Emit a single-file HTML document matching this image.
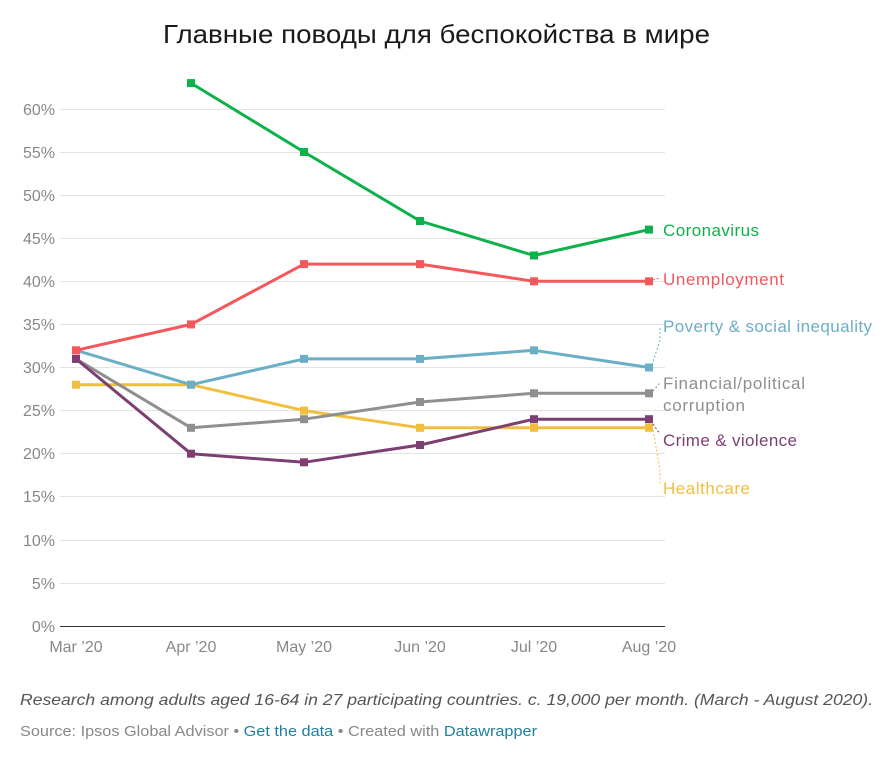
<!DOCTYPE html>
<html><head><meta charset="utf-8"><style>
body{margin:0;background:#fff;width:888px;height:752px;overflow:hidden;font-family:"Liberation Sans","DejaVu Sans",sans-serif;}
</style></head><body>
<svg width="888" height="752" xmlns="http://www.w3.org/2000/svg" font-family="Liberation Sans, DejaVu Sans, sans-serif">
<text x="163" y="43" font-size="26" fill="#1a1a1a" textLength="547" lengthAdjust="spacingAndGlyphs">Главные поводы для беспокойства в мире</text>
<g stroke="#e3e3e3" stroke-width="1">
<line x1="60" x2="665" y1="109.5" y2="109.5"/><line x1="60" x2="665" y1="152.5" y2="152.5"/><line x1="60" x2="665" y1="195.5" y2="195.5"/><line x1="60" x2="665" y1="238.5" y2="238.5"/><line x1="60" x2="665" y1="281.5" y2="281.5"/><line x1="60" x2="665" y1="324.5" y2="324.5"/><line x1="60" x2="665" y1="367.5" y2="367.5"/><line x1="60" x2="665" y1="410.5" y2="410.5"/><line x1="60" x2="665" y1="453.5" y2="453.5"/><line x1="60" x2="665" y1="496.5" y2="496.5"/><line x1="60" x2="665" y1="540.5" y2="540.5"/><line x1="60" x2="665" y1="583.5" y2="583.5"/>
</g>
<line x1="60" x2="665" y1="626.5" y2="626.5" stroke="#333" stroke-width="1"/>
<g font-size="16" fill="#888" text-anchor="end">
<text x="55" y="115">60%</text><text x="55" y="158">55%</text><text x="55" y="201">50%</text><text x="55" y="244">45%</text><text x="55" y="287">40%</text><text x="55" y="330">35%</text><text x="55" y="373">30%</text><text x="55" y="416">25%</text><text x="55" y="459">20%</text><text x="55" y="502">15%</text><text x="55" y="546">10%</text><text x="55" y="589">5%</text><text x="55" y="632">0%</text>
</g>
<g font-size="16" fill="#888" text-anchor="middle">
<text x="76" y="652">Mar ’20</text><text x="191" y="652">Apr ’20</text><text x="304" y="652">May ’20</text><text x="420" y="652">Jun ’20</text><text x="534" y="652">Jul ’20</text><text x="649" y="652">Aug ’20</text>
</g>
<g fill="none" stroke-width="3" stroke-linejoin="round">
<polyline stroke="#f0bf3e" points="76,384.7 191,384.7 304,410.6 420,427.8 534,427.8 649,427.8"/>
<polyline stroke="#8f8f8f" points="76,358.9 191,427.8 304,419.2 420,402 534,393.3 649,393.3"/>
<polyline stroke="#7d3f72" points="76,358.9 191,453.7 304,462.3 420,445 534,419.2 649,419.2"/>
<polyline stroke="#6bafc6" points="76,350.3 191,384.7 304,358.9 420,358.9 534,350.3 649,367.5"/>
<polyline stroke="#f4575c" points="76,350.3 191,324.4 304,264.1 420,264.1 534,281.3 649,281.3"/>
<polyline stroke="#0db14b" points="191,83.1 304,152 420,221 534,255.5 649,229.6"/>
</g>
<g>
<g fill="#f0bf3e"><rect x="72" y="380.7" width="8" height="8"/><rect x="187" y="380.7" width="8" height="8"/><rect x="300" y="406.6" width="8" height="8"/><rect x="416" y="423.8" width="8" height="8"/><rect x="530" y="423.8" width="8" height="8"/><rect x="645" y="423.8" width="8" height="8"/></g>
<g fill="#8f8f8f"><rect x="72" y="354.9" width="8" height="8"/><rect x="187" y="423.8" width="8" height="8"/><rect x="300" y="415.2" width="8" height="8"/><rect x="416" y="398" width="8" height="8"/><rect x="530" y="389.3" width="8" height="8"/><rect x="645" y="389.3" width="8" height="8"/></g>
<g fill="#7d3f72"><rect x="72" y="354.9" width="8" height="8"/><rect x="187" y="449.7" width="8" height="8"/><rect x="300" y="458.3" width="8" height="8"/><rect x="416" y="441" width="8" height="8"/><rect x="530" y="415.2" width="8" height="8"/><rect x="645" y="415.2" width="8" height="8"/></g>
<g fill="#6bafc6"><rect x="187" y="380.7" width="8" height="8"/><rect x="300" y="354.9" width="8" height="8"/><rect x="416" y="354.9" width="8" height="8"/><rect x="530" y="346.3" width="8" height="8"/><rect x="645" y="363.5" width="8" height="8"/></g>
<g fill="#f4575c"><rect x="72" y="346.3" width="8" height="8"/><rect x="187" y="320.4" width="8" height="8"/><rect x="300" y="260.1" width="8" height="8"/><rect x="416" y="260.1" width="8" height="8"/><rect x="530" y="277.3" width="8" height="8"/><rect x="645" y="277.3" width="8" height="8"/></g>
<g fill="#0db14b"><rect x="187" y="79.1" width="8" height="8"/><rect x="300" y="148" width="8" height="8"/><rect x="416" y="217" width="8" height="8"/><rect x="530" y="251.5" width="8" height="8"/><rect x="645" y="225.6" width="8" height="8"/></g>
</g>
<g stroke-dasharray="2,2" stroke-width="1" fill="none">
<path stroke="#6bafc6" d="M652,365 L660,340 L660,328"/>
<path stroke="#8f8f8f" d="M653,391 L660,383"/>
<path stroke="#7d3f72" d="M653,424 L660,434"/>
<path stroke="#f0bf3e" d="M653,430 L660,470 L660,484"/>
<path stroke="#f4575c" d="M653,280 L660,278"/>
</g>
<g font-size="17" lengthAdjust="spacingAndGlyphs">
<text x="663" y="236" fill="#0db14b" textLength="96">Coronavirus</text>
<text x="663" y="285" fill="#f4575c" textLength="121">Unemployment</text>
<text x="663" y="332" fill="#6bafc6" textLength="209">Poverty &amp; social inequality</text>
<text x="663" y="389" fill="#8f8f8f" textLength="142">Financial/political</text>
<text x="663" y="411" fill="#8f8f8f" textLength="82">corruption</text>
<text x="663" y="446" fill="#7d3f72" textLength="134">Crime &amp; violence</text>
<text x="663" y="494" fill="#f0bf3e" textLength="87">Healthcare</text>
</g>
<text x="20" y="705" font-size="16" font-style="italic" fill="#555" textLength="853" lengthAdjust="spacingAndGlyphs">Research among adults aged 16-64 in 27 participating countries. c. 19,000 per month. (March - August 2020).</text>
<text x="20" y="736" font-size="15" fill="#888" textLength="517" lengthAdjust="spacingAndGlyphs">Source: Ipsos Global Advisor • <tspan fill="#1d81a2">Get the data</tspan> • Created with <tspan fill="#1d81a2">Datawrapper</tspan></text>
</svg>
</body></html>
